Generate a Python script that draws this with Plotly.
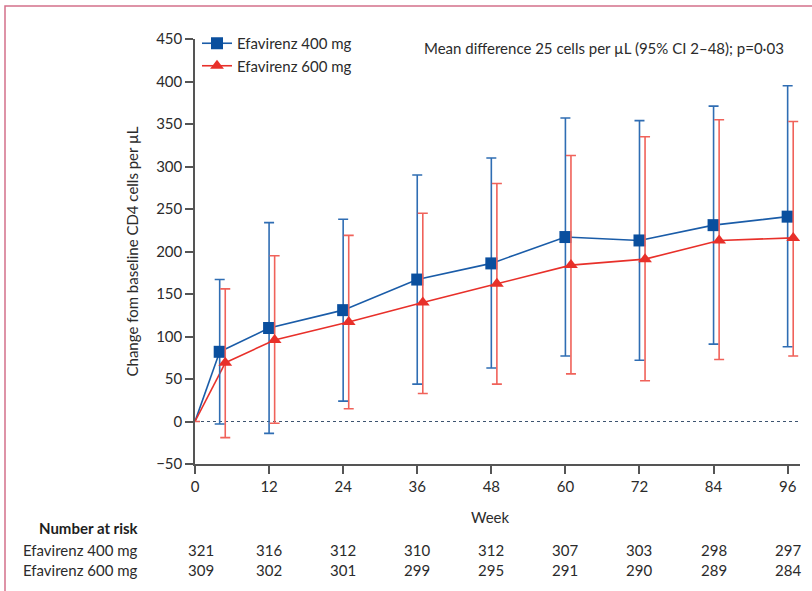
import plotly.graph_objects as go

weeks = [4, 12, 24, 36, 48, 60, 72, 84, 96]
red_offset = 0.9
blue_mean = [82, 110, 131, 167, 186, 217, 213, 231, 241]
blue_upper = [167, 234, 238, 290, 310, 357, 354, 371, 395]
blue_lower = [-3, -14, 24, 44, 63, 77, 72, 91, 88]
red_mean = [69, 96, 117, 140, 162, 184, 191, 213, 216]
red_upper = [156, 195, 219, 245, 280, 313, 335, 355, 353]
red_lower = [-19, -2, 15, 33, 44, 56, 48, 73, 77]
baseline_week = 0
baseline_change = 0

tick_weeks = [0, 12, 24, 36, 48, 60, 72, 84, 96]
risk_400 = [321, 316, 312, 310, 312, 307, 303, 298, 297]
risk_600 = [309, 302, 301, 299, 295, 291, 290, 289, 284]

FONT = "Lato"
TXT = "#2b2b2b"
BLUE = "#0a4f9e"
BLUE_LN = "#1a5ca8"
BLUE_EB = "#2f6db3"
RED = "#e8302a"
RED_EB = "#f0625a"

red_x = [w + red_offset for w in weeks]

fig = go.Figure()
fig.add_trace(go.Scatter(x=[baseline_week, weeks[0]], y=[baseline_change, blue_mean[0]],
                         mode="lines", line=dict(color=BLUE_LN, width=1.6),
                         showlegend=False, hoverinfo="skip"))
fig.add_trace(go.Scatter(x=[baseline_week, red_x[0]], y=[baseline_change, red_mean[0]],
                         mode="lines", line=dict(color=RED, width=1.6),
                         showlegend=False, hoverinfo="skip"))
fig.add_trace(go.Scatter(x=[baseline_week], y=[baseline_change], mode="markers",
                         marker=dict(size=1, color="rgba(0,0,0,0)"),
                         error_y=dict(type="data", array=[0], color=RED_EB, thickness=1.6, width=5),
                         showlegend=False, hoverinfo="skip"))

fig.add_trace(go.Scatter(
    x=weeks, y=blue_mean, mode="lines+markers", name="Efavirenz 400 mg",
    line=dict(color=BLUE_LN, width=1.6),
    marker=dict(symbol="square", size=12, color=BLUE, line=dict(width=0)),
    error_y=dict(type="data", symmetric=False,
                 array=[u - m for u, m in zip(blue_upper, blue_mean)],
                 arrayminus=[m - l for m, l in zip(blue_mean, blue_lower)],
                 color=BLUE_EB, thickness=1.6, width=5),
))
fig.add_trace(go.Scatter(
    x=red_x, y=red_mean, mode="lines+markers", name="Efavirenz 600 mg",
    line=dict(color=RED, width=1.6),
    marker=dict(symbol="triangle-up", size=12, color=RED, line=dict(width=0)),
    error_y=dict(type="data", symmetric=False,
                 array=[u - m for u, m in zip(red_upper, red_mean)],
                 arrayminus=[m - l for m, l in zip(red_mean, red_lower)],
                 color=RED_EB, thickness=1.6, width=5),
))

W, H = 812, 591
L, T = 195, 39
R = 12
B = H - T - 425
pw = W - L - R
ph = H - T - B

def px_x(px):  # page pixel -> paper
    return (px - L) / pw

def px_y(py):
    return (H - B - py) / ph

shapes = [
    dict(type="line", xref="x", yref="y", x0=0, x1=98, y0=0, y1=0,
         line=dict(color="#3d5470", width=1, dash="3px,3px"), layer="below"),
    dict(type="rect", xref="paper", yref="paper", x0=px_x(5), x1=px_x(840),
         y0=px_y(640), y1=px_y(6), line=dict(color="#d4708a", width=1.5)),
]

def ann(text, x, y, xanchor="center", xref="paper", color=TXT):
    return dict(text=text, xref=xref, yref="paper", x=x, y=y, xanchor=xanchor,
                yanchor="middle", showarrow=False,
                font=dict(family=FONT, size=15, color=color))

annotations = [
    ann("Mean difference 25 cells per µL (95% CI 2–48); p=0·03", px_x(786), px_y(48), "right"),
    ann("Week", px_x(490), px_y(517)),
    ann("<b>Number at risk</b>", px_x(141), px_y(528), "right", color="#1e1e1e"),
    ann("Efavirenz 400 mg", px_x(140), px_y(550), "right"),
    ann("Efavirenz 600 mg", px_x(140), px_y(570), "right"),
]
for w, a, b in zip(tick_weeks, risk_400, risk_600):
    xs = w + 1 if w == 0 else w
    annotations.append(ann(str(a), xs, px_y(550), xref="x"))
    annotations.append(ann(str(b), xs, px_y(570), xref="x"))

fig.update_layout(
    width=W, height=H,
    margin=dict(l=L, r=R, t=T, b=B),
    paper_bgcolor="white", plot_bgcolor="white",
    font=dict(family=FONT, size=15, color=TXT),
    showlegend=True,
    legend=dict(x=px_x(197), y=px_y(27), xanchor="left", yanchor="top",
                bgcolor="rgba(0,0,0,0)", font=dict(family=FONT, size=15, color=TXT),
                itemwidth=30, tracegroupgap=0),
    xaxis=dict(range=[0, 98], tickvals=tick_weeks, showgrid=False, zeroline=False,
               showline=True, linecolor="#555555", linewidth=1.5,
               ticks="outside", ticklen=8, tickcolor="#555555", tickwidth=1.5,
               tickfont=dict(family=FONT, size=15, color=TXT)),
    yaxis=dict(range=[-50, 450], tickvals=list(range(-50, 451, 50)),
               ticktext=["−50"] + [str(v) for v in range(0, 451, 50)],
               showgrid=False, zeroline=False,
               showline=True, linecolor="#555555", linewidth=1.5,
               ticks="outside", ticklen=8, tickcolor="#555555", tickwidth=1.5,
               tickfont=dict(family=FONT, size=15, color=TXT),
               title=dict(text="Change fom baseline CD4 cells per µL", standoff=14,
                          font=dict(family=FONT, size=15, color=TXT))),
    shapes=shapes,
    annotations=annotations,
)

fig.write_html("out.html", config={"displayModeBar": False},
               post_script="document.body.style.margin='0px';")
